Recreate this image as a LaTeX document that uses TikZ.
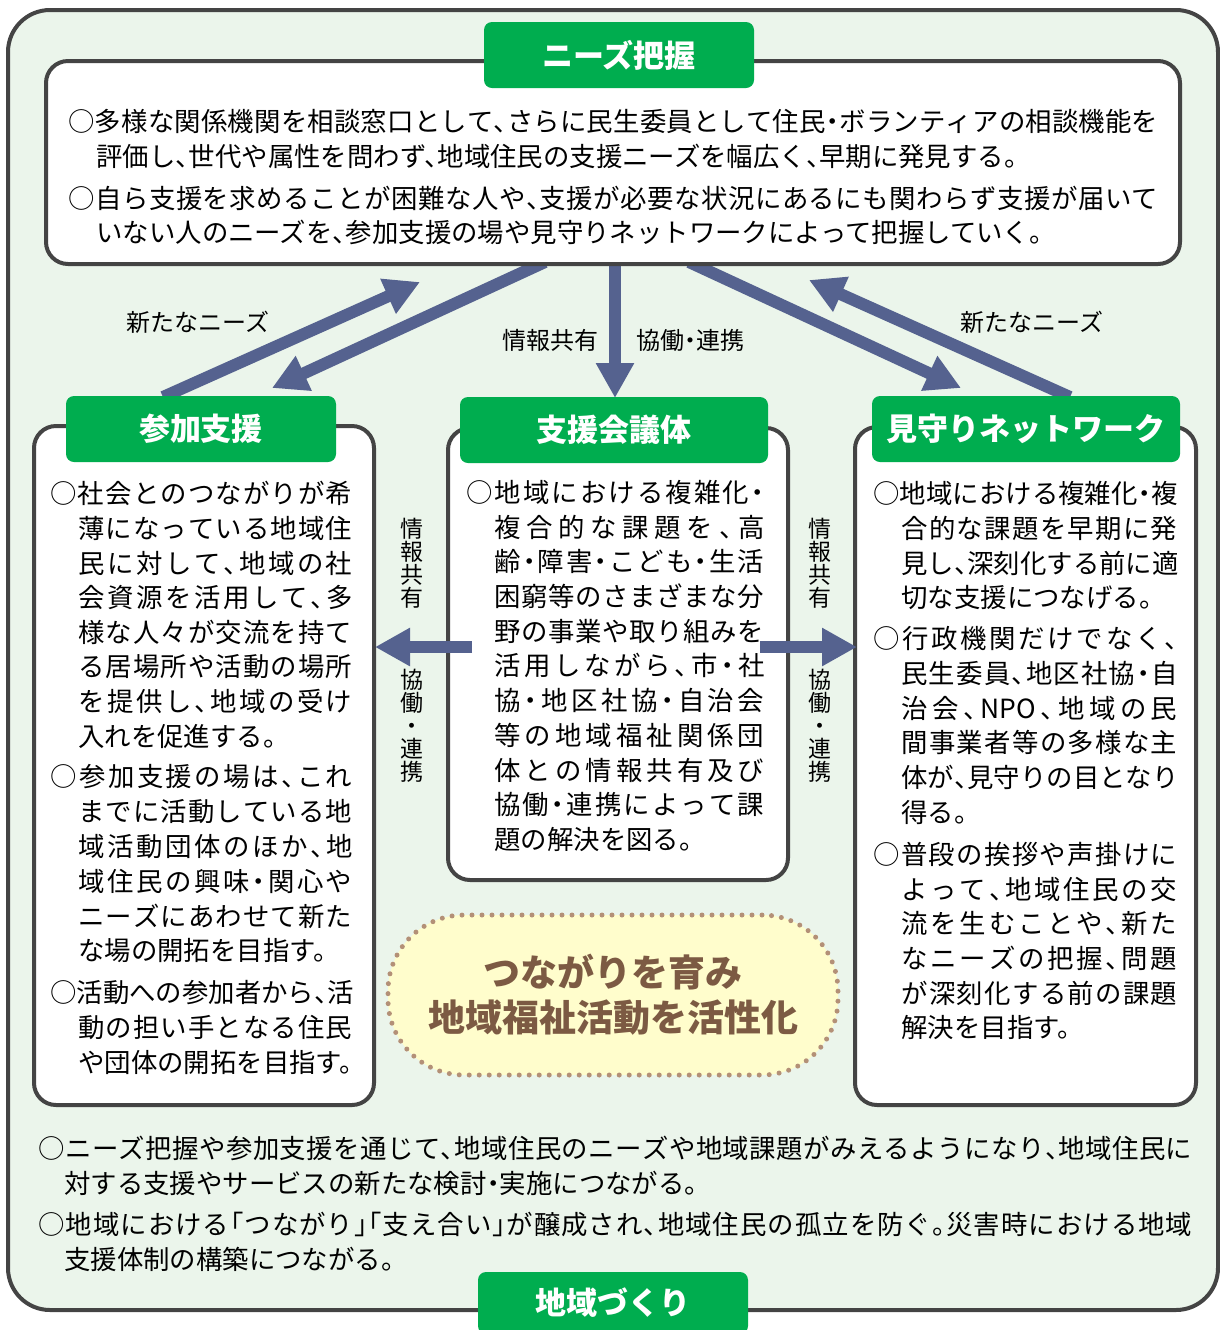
\documentclass[tikz,border=0pt]{standalone}
\usepackage{fontspec}
\setmainfont{Noto Sans CJK JP}[RawFeature=+halt]
\usetikzlibrary{arrows.meta}
\definecolor{bgg}{RGB}{235,245,235}
\definecolor{grn}{RGB}{0,173,79}
\definecolor{arr}{RGB}{85,98,143}
\definecolor{bdr}{RGB}{68,68,68}
\definecolor{ovf}{RGB}{255,253,204}
\definecolor{ovd}{RGB}{179,144,119}
\definecolor{ovt}{RGB}{124,90,67}
\newdimen\pxu \pxu=0.5pt
\makeatletter
\newcommand\jl[2]{\hbox to #1\pxu{\jl@a#2\@nil}}
\def\jl@a#1{#1\jl@b}
\def\jl@b#1{\ifx\@nil#1\else\hfil#1\expandafter\jl@b\fi}
\makeatother
\newcommand\NPO{\mbox{NPO}}
\begin{document}
\begin{tikzpicture}[x=0.5pt,y=-0.5pt,
  txt/.style={inner sep=0pt, anchor=base west, font=\fontsize{13.2}{16}\selectfont},
  wbox/.style={draw=bdr, line width=2pt, fill=white, rounded corners=11pt, inner sep=0pt},
  ttl/.style={fill=grn, rounded corners=4pt, text=white, font=\fontsize{15.5}{18}\selectfont\bfseries, inner sep=0pt, minimum height=33pt},
  lbl/.style={inner sep=0pt, font=\fontsize{12}{14}\selectfont},
  vlbl/.style={inner sep=0pt, align=center, font=\fontsize{11.5}{11.5}\selectfont},
  bigarr/.style={draw=arr, line width=6pt, -{Triangle[length=17.5pt,width=18pt]}}]
\clip (0,0) rectangle (1220,1330);
% outer frame
\node[draw=bdr, line width=2pt, fill=bgg, rounded corners=21pt, minimum width=605pt, minimum height=650pt] (outer) at (613,660) {};
% arrow end points
\coordinate (uaL0) at (163,397); \coordinate (uaL1) at (420,282);
\coordinate (daL0) at (545,262); \coordinate (daL1) at (272,388);
\coordinate (dm0) at (615,262);  \coordinate (dm1) at (615,398);
\coordinate (daR0) at (689,262); \coordinate (daR1) at (961,388);
\coordinate (uaR0) at (1070,397); \coordinate (uaR1) at (809,280);
\draw[bigarr] (uaL0) -- (uaL1);
\draw[bigarr] (daL0) -- (daL1);
\draw[bigarr] (dm0) -- (dm1);
\draw[bigarr] (daR0) -- (daR1);
\draw[bigarr] (uaR0) -- (uaR1);
% white boxes
\node[wbox, minimum width=567pt, minimum height=101.5pt] (topbox) at (613,162.5) {};
\node[wbox, minimum width=170pt, minimum height=339.5pt] (leftbox) at (204,765.5) {};
\node[wbox, minimum width=170pt, minimum height=226pt] (midbox) at (618,654) {};
\node[wbox, minimum width=170.5pt, minimum height=339pt] (rightbox) at (1025.5,766) {};
% titles
\node[ttl, minimum width=135pt] (t0) at (619,55) {ニーズ把握};
\node[ttl, minimum width=135pt] (t1) at (201,429) {参加支援};
\node[ttl, minimum width=154pt] (t2) at (614,430) {支援会議体};
\node[ttl, minimum width=154pt] (t3) at (1026,429) {見守りネットワーク};
\node[ttl, minimum width=135pt, minimum height=31pt] (t4) at (613,1303) {地域づくり};
% oval
\node[fill=ovf, draw=ovd, line width=2.5pt, dash pattern=on 0pt off 5pt, line cap=round, rounded corners=38pt, minimum width=225pt, minimum height=80pt, align=center, text=ovt, font=\fontsize{18.5}{22.5}\selectfont\bfseries] (oval) at (613,995) {つながりを育み\\地域福祉活動を活性化};
% horizontal arrows
\coordinate (hl0) at (472,647); \coordinate (hl1) at (375,647);
\coordinate (hr0) at (760,647); \coordinate (hr1) at (857,647);
\draw[bigarr] (hl0) -- (hl1);
\draw[bigarr] (hr0) -- (hr1);
% labels
\node[lbl] (nn1) at (198,322) {新たなニーズ};
\node[lbl] (nn2) at (1032,322) {新たなニーズ};
\node[lbl] (js) at (550,340) {情報共有};
\node[lbl] (kr) at (690,340) {協働・連携};
\node[vlbl] (vl1) at (412,563) {情\\報\\共\\有};
\node[vlbl] (vl2) at (412,726) {協\\働\\・\\連\\携};
\node[vlbl] (vr1) at (820,563) {情\\報\\共\\有};
\node[vlbl] (vr2) at (820,726) {協\\働\\・\\連\\携};
% top box text
\node[txt] (p1) at (68,131) {\jl{1090}{○多様な関係機関を相談窓口として、さらに民生委員として住民・ボランティアの相談機能を}};
\node[txt] (p2) at (96,166) {評価し、世代や属性を問わず、地域住民の支援ニーズを幅広く、早期に発見する。};
\node[txt] (p3) at (68,208) {\jl{1090}{○自ら支援を求めることが困難な人や、支援が必要な状況にあるにも関わらず支援が届いて}};
\node[txt] (p4) at (96,242) {いない人のニーズを、参加支援の場や見守りネットワークによって把握していく。};
% left box text
\node[txt] (l1) at (50,503) {\jl{302}{○社会とのつながりが希}};
\node[txt] (l2) at (78,538) {\jl{274}{薄になっている地域住}};
\node[txt] (l3) at (78,573) {\jl{274}{民に対して、地域の社}};
\node[txt] (l4) at (78,607) {\jl{274}{会資源を活用して、多}};
\node[txt] (l5) at (78,642) {\jl{274}{様な人々が交流を持て}};
\node[txt] (l6) at (78,676) {\jl{274}{る居場所や活動の場所}};
\node[txt] (l7) at (78,711) {\jl{274}{を提供し、地域の受け}};
\node[txt] (l8) at (78,746) {入れを促進する。};
\node[txt] (l9) at (50,786) {\jl{302}{○参加支援の場は、これ}};
\node[txt] (l10) at (78,821) {\jl{274}{までに活動している地}};
\node[txt] (l11) at (78,856) {\jl{274}{域活動団体のほか、地}};
\node[txt] (l12) at (78,891) {\jl{274}{域住民の興味・関心や}};
\node[txt] (l13) at (78,926) {\jl{274}{ニーズにあわせて新た}};
\node[txt] (l14) at (78,960) {な場の開拓を目指す。};
\node[txt] (l15) at (50,1002) {\jl{302}{○活動への参加者から、活}};
\node[txt] (l16) at (78,1037) {\jl{274}{動の担い手となる住民}};
\node[txt] (l17) at (78,1072) {や団体の開拓を目指す。};
% middle box text
\node[txt] (m1) at (466,502) {\jl{298}{○地域における複雑化・}};
\node[txt] (m2) at (494,537) {\jl{270}{複合的な課題を、高}};
\node[txt] (m3) at (494,571) {\jl{270}{齢・障害・こども・生活}};
\node[txt] (m4) at (494,606) {\jl{270}{困窮等のさまざまな分}};
\node[txt] (m5) at (494,641) {\jl{270}{野の事業や取り組みを}};
\node[txt] (m6) at (494,675) {\jl{270}{活用しながら、市・社}};
\node[txt] (m7) at (494,710) {\jl{270}{協・地区社協・自治会}};
\node[txt] (m8) at (494,745) {\jl{270}{等の地域福祉関係団}};
\node[txt] (m9) at (494,780) {\jl{270}{体との情報共有及び}};
\node[txt] (m10) at (494,814) {\jl{270}{協働・連携によって課}};
\node[txt] (m11) at (494,849) {題の解決を図る。};
% right box text
\node[txt] (r1) at (873,503) {\jl{304}{○地域における複雑化・複}};
\node[txt] (r2) at (901,538) {\jl{276}{合的な課題を早期に発}};
\node[txt] (r3) at (901,573) {\jl{276}{見し、深刻化する前に適}};
\node[txt] (r4) at (901,607) {切な支援につなげる。};
\node[txt] (r5) at (873,648) {\jl{304}{○行政機関だけでなく、}};
\node[txt] (r6) at (901,683) {\jl{276}{民生委員、地区社協・自}};
\node[txt] (r7) at (901,718) {\jl{276}{治会、\NPO、地域の民}};
\node[txt] (r8) at (901,752) {\jl{276}{間事業者等の多様な主}};
\node[txt] (r9) at (901,787) {\jl{276}{体が、見守りの目となり}};
\node[txt] (r10) at (901,822) {得る。};
\node[txt] (r11) at (873,864) {\jl{304}{○普段の挨拶や声掛けに}};
\node[txt] (r12) at (901,899) {\jl{276}{よって、地域住民の交}};
\node[txt] (r13) at (901,933) {\jl{276}{流を生むことや、新た}};
\node[txt] (r14) at (901,968) {\jl{276}{なニーズの把握、問題}};
\node[txt] (r15) at (901,1003) {\jl{276}{が深刻化する前の課題}};
\node[txt] (r16) at (901,1037) {解決を目指す。};
% bottom text
\node[txt] (b1) at (38,1158) {\jl{1154}{○ニーズ把握や参加支援を通じて、地域住民のニーズや地域課題がみえるようになり、地域住民に}};
\node[txt] (b2) at (64,1193) {対する支援やサービスの新たな検討・実施につながる。};
\node[txt] (b3) at (38,1234) {\jl{1154}{○地域における「つながり」「支え合い」が醸成され、地域住民の孤立を防ぐ。災害時における地域}};
\node[txt] (b4) at (64,1269) {支援体制の構築につながる。};
\end{tikzpicture}
\end{document}
